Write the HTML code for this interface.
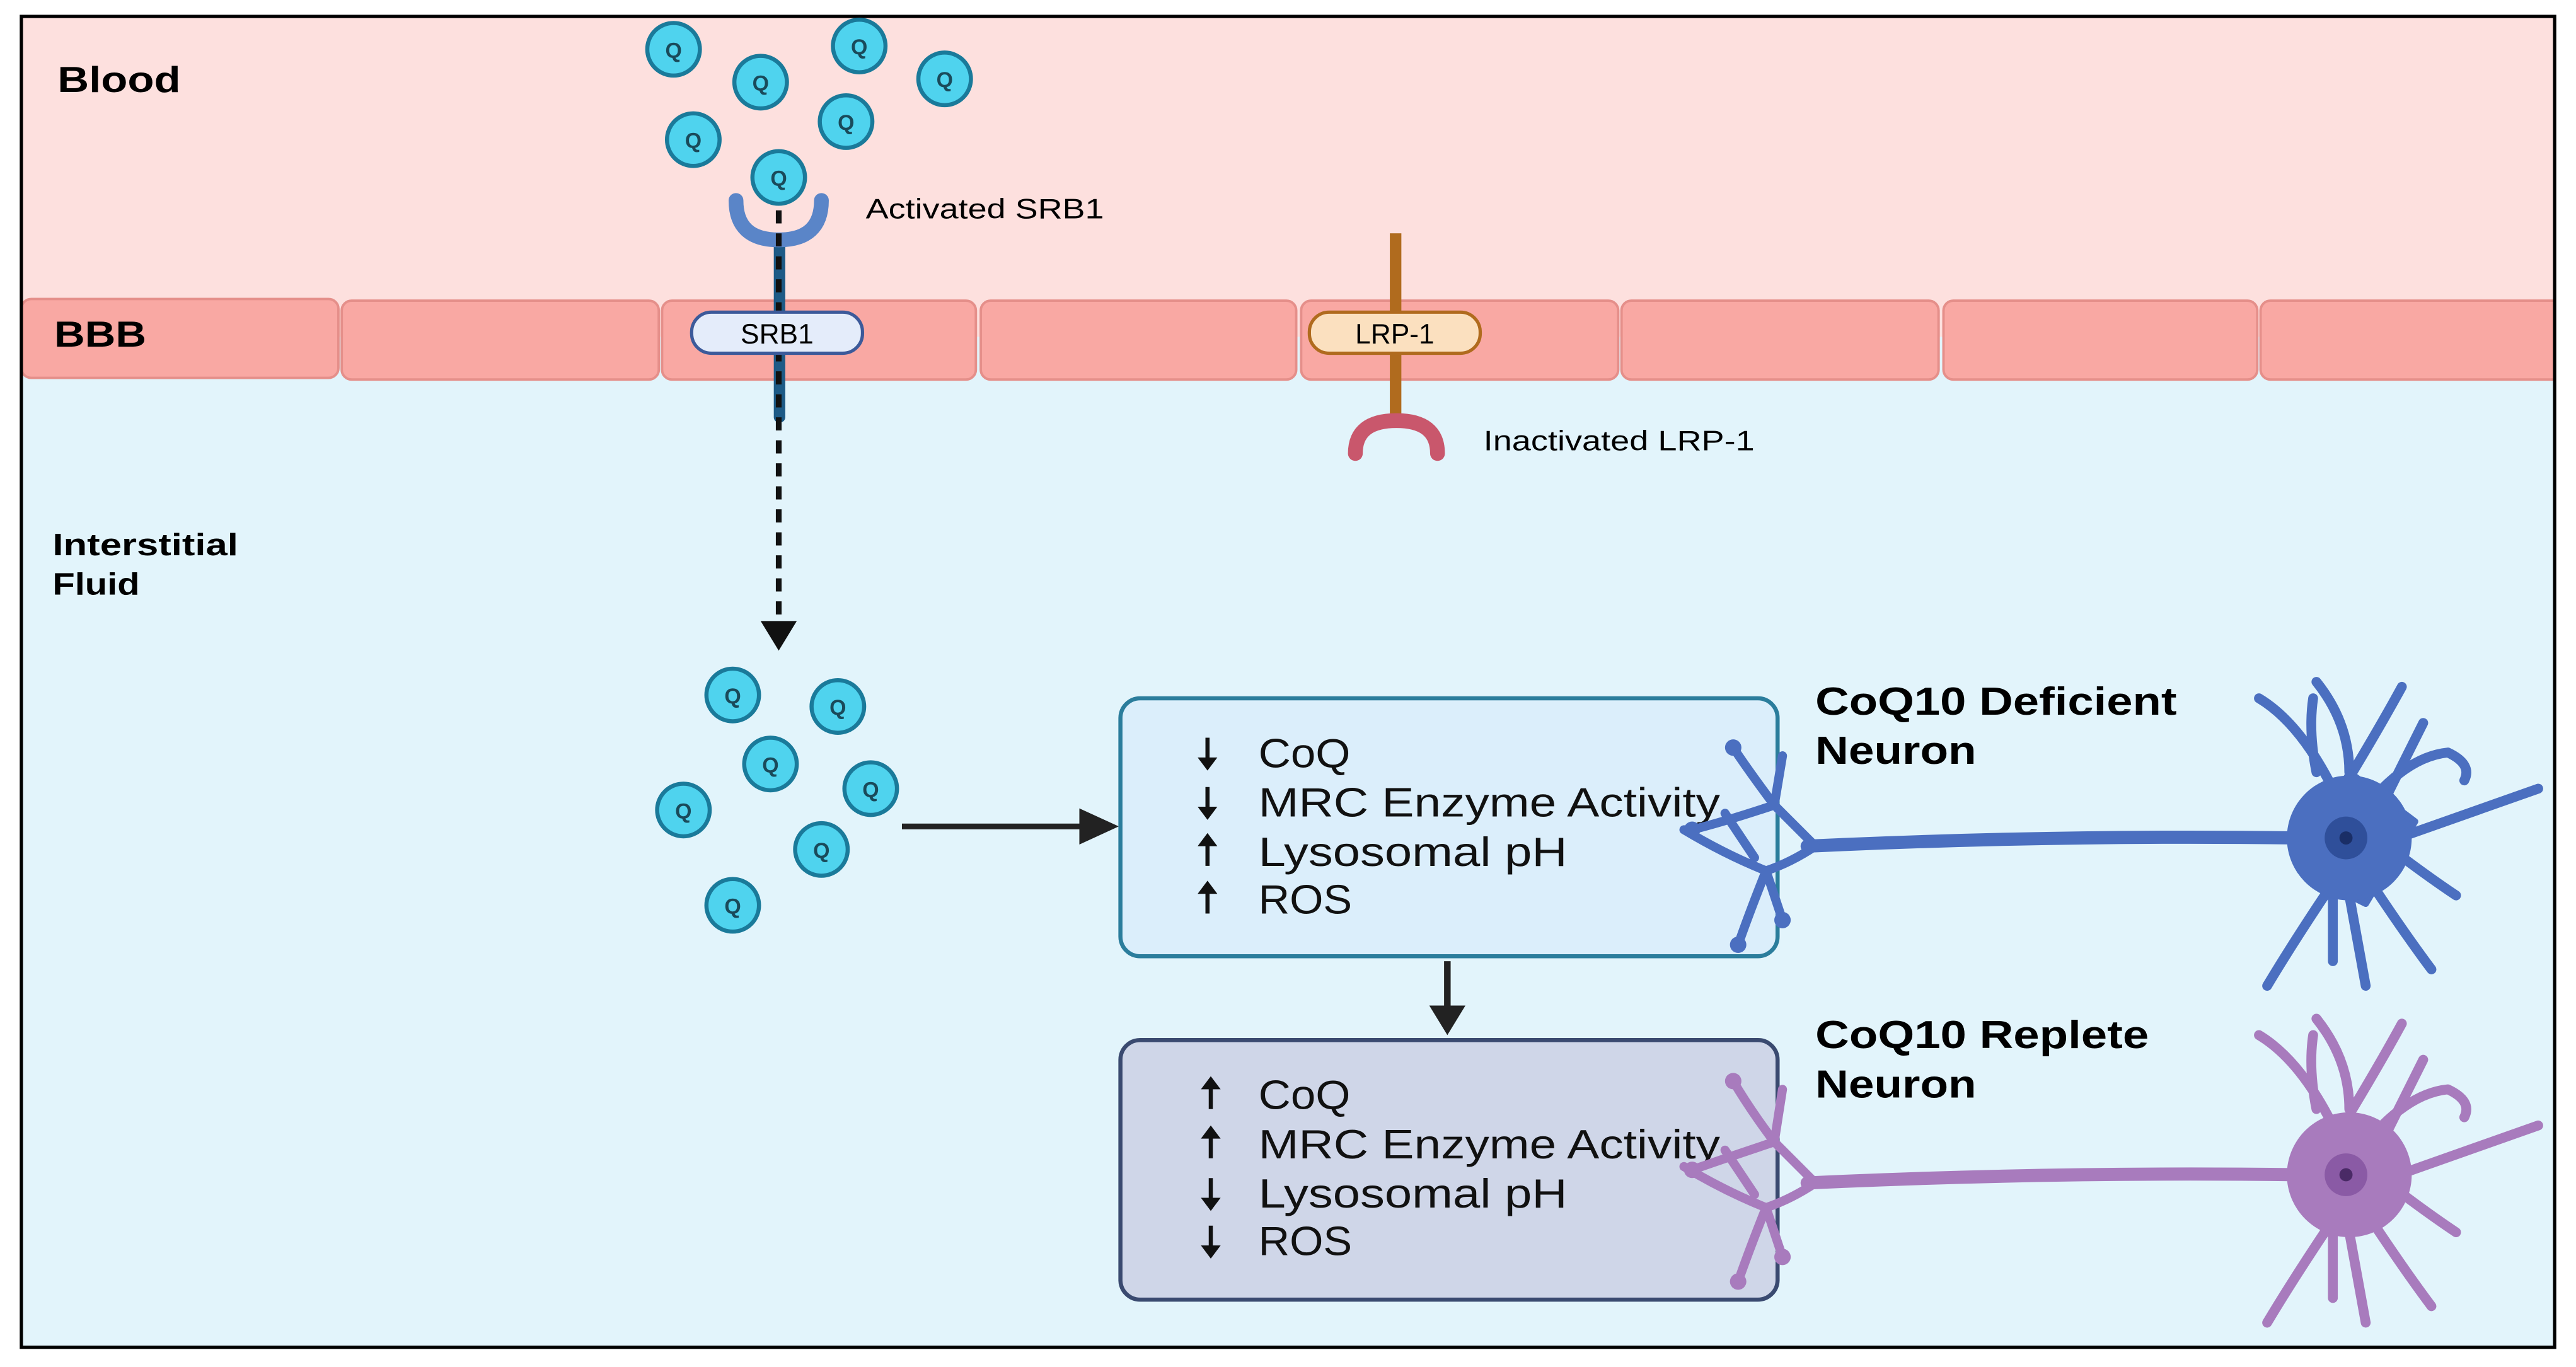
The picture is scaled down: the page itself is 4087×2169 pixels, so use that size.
<!DOCTYPE html>
<html><head><meta charset="utf-8"><style>
html,body{margin:0;padding:0;background:#fff;}
svg{display:block;}
text{font-family:"Liberation Sans",sans-serif;}
</style></head><body>
<svg width="4087" height="2169" viewBox="0 0 1568 832" preserveAspectRatio="none" xmlns="http://www.w3.org/2000/svg">
<defs>
<g id="q"><circle r="16" fill="#4fd3ee" stroke="#1a7a9a" stroke-width="2.5"/><text y="5" text-anchor="middle" font-size="13" font-weight="bold" fill="#1a4a5a">Q</text></g>
<g id="ar"><line x1="0" y1="-9" x2="0" y2="9" stroke="#111" stroke-width="2.5"/><polygon points="-6,-3 0,-11 6,-3" fill="#111"/></g>
<g id="ad"><line x1="0" y1="-9" x2="0" y2="9" stroke="#111" stroke-width="2.5"/><polygon points="-6,3 0,11 6,3" fill="#111"/></g>
<clipPath id="fr"><rect x="13" y="10" width="1542" height="810"/></clipPath>
</defs>
<rect x="0" y="0" width="1568" height="832" fill="#fff"/>
<rect x="13" y="10" width="1542" height="810" fill="#e2f4fb"/>
<rect x="13" y="10" width="1542" height="195" fill="#fde0de"/>
<g fill="#f9a8a3" stroke="#e58f8a" stroke-width="1.5" clip-path="url(#fr)">
<rect x="13" y="182" width="193" height="48" rx="6"/>
<rect x="208" y="183" width="193" height="48" rx="6"/>
<rect x="403" y="183" width="191" height="48" rx="6"/>
<rect x="597" y="183" width="192" height="48" rx="6"/>
<rect x="792" y="183" width="193" height="48" rx="6"/>
<rect x="987" y="183" width="193" height="48" rx="6"/>
<rect x="1183" y="183" width="191" height="48" rx="6"/>
<rect x="1376" y="183" width="200" height="48" rx="6"/>
</g>
<rect x="13" y="10" width="1542" height="810" fill="none" stroke="#000" stroke-width="2"/>
<text x="35" y="56" font-size="22" font-weight="bold" textLength="75" lengthAdjust="spacingAndGlyphs">Blood</text>
<text x="33" y="211" font-size="22" font-weight="bold" textLength="56" lengthAdjust="spacingAndGlyphs">BBB</text>
<text x="32" y="338" font-size="19" font-weight="bold" textLength="113" lengthAdjust="spacingAndGlyphs">Interstitial</text>
<text x="32" y="362" font-size="19" font-weight="bold" textLength="53" lengthAdjust="spacingAndGlyphs">Fluid</text>
<use href="#q" x="410" y="30"/><use href="#q" x="523" y="28"/><use href="#q" x="463" y="50"/>
<use href="#q" x="575" y="48"/><use href="#q" x="422" y="85"/><use href="#q" x="515" y="74"/>
<rect x="471" y="145" width="7" height="112" rx="3" fill="#1d5a86"/>
<path d="M448 122 Q448 146 474 146 Q500 146 500 122" fill="none" stroke="#5a85c8" stroke-width="9" stroke-linecap="round"/>
<use href="#q" x="474" y="108"/>
<line x1="474" y1="128" x2="474" y2="380" stroke="#111" stroke-width="3.5" stroke-dasharray="8,6"/>
<polygon points="463,378 485,378 474,396" fill="#111"/>
<rect x="421" y="190" width="104" height="25" rx="12" fill="#e4ecfa" stroke="#3c5a9a" stroke-width="2"/>
<text x="473" y="209" font-size="17" text-anchor="middle">SRB1</text>
<text x="527" y="133" font-size="17" textLength="145" lengthAdjust="spacingAndGlyphs">Activated SRB1</text>
<rect x="846" y="142" width="7" height="112" fill="#b06b1e"/>
<path d="M825 276 Q825 256 850 256 Q875 256 875 276" fill="none" stroke="#c9576c" stroke-width="9" stroke-linecap="round"/>
<rect x="797" y="190" width="104" height="25" rx="12" fill="#fbe0bf" stroke="#b06b1e" stroke-width="2"/>
<text x="849" y="209" font-size="17" text-anchor="middle">LRP-1</text>
<text x="903" y="274" font-size="17" textLength="165" lengthAdjust="spacingAndGlyphs">Inactivated LRP-1</text>
<use href="#q" x="446" y="423"/><use href="#q" x="510" y="430"/><use href="#q" x="469" y="465"/>
<use href="#q" x="530" y="480"/><use href="#q" x="416" y="493"/><use href="#q" x="500" y="517"/>
<use href="#q" x="446" y="551"/>
<line x1="549" y1="503" x2="660" y2="503" stroke="#222" stroke-width="3.5"/>
<polygon points="657,492 681,503 657,514" fill="#222"/>
<rect x="682" y="425" width="400" height="157" rx="12" fill="#dbeefb" stroke="#2b7d9c" stroke-width="2.5"/>
<rect x="682" y="633" width="400" height="158" rx="12" fill="#cfd6e8" stroke="#3a4a70" stroke-width="2.5"/>
<line x1="881" y1="585" x2="881" y2="615" stroke="#222" stroke-width="4"/>
<polygon points="870,612 892,612 881,630" fill="#222"/>
<g font-size="25" fill="#111">
<text x="766" y="467" textLength="56" lengthAdjust="spacingAndGlyphs">CoQ</text><text x="766" y="497" textLength="281" lengthAdjust="spacingAndGlyphs">MRC Enzyme Activity</text>
<text x="766" y="527" textLength="188" lengthAdjust="spacingAndGlyphs">Lysosomal pH</text><text x="766" y="556" textLength="57" lengthAdjust="spacingAndGlyphs">ROS</text>
<text x="766" y="675" textLength="56" lengthAdjust="spacingAndGlyphs">CoQ</text><text x="766" y="705" textLength="281" lengthAdjust="spacingAndGlyphs">MRC Enzyme Activity</text>
<text x="766" y="735" textLength="188" lengthAdjust="spacingAndGlyphs">Lysosomal pH</text><text x="766" y="764" textLength="57" lengthAdjust="spacingAndGlyphs">ROS</text>
</g>
<use href="#ad" x="735" y="458"/><use href="#ad" x="735" y="488"/><use href="#ar" x="735" y="518"/><use href="#ar" x="735" y="547"/>
<use href="#ar" x="737" y="666"/><use href="#ar" x="737" y="696"/><use href="#ad" x="737" y="726"/><use href="#ad" x="737" y="755"/>
<g font-size="24" font-weight="bold">
<text x="1105" y="435" textLength="220" lengthAdjust="spacingAndGlyphs">CoQ10 Deficient</text>
<text x="1105" y="465" textLength="98" lengthAdjust="spacingAndGlyphs">Neuron</text>
<text x="1105" y="638" textLength="203" lengthAdjust="spacingAndGlyphs">CoQ10 Replete</text>
<text x="1105" y="668" textLength="98" lengthAdjust="spacingAndGlyphs">Neuron</text>
</g>
<g fill="none" stroke="#4b6fc0" stroke-linecap="round" stroke-linejoin="round">
<path d="M1100 515 Q1250 508 1400 510" stroke-width="8"/>
<path d="M1105 515 Q1085 495 1080 490 Q1065 470 1055 455 M1080 490 Q1050 500 1030 505 M1080 490 L1085 460 M1105 515 Q1090 525 1075 530 Q1050 520 1025 505 M1075 530 Q1065 555 1058 575 M1075 530 L1085 560 M1068 522 L1050 495" stroke-width="5.5"/>
<path d="M1420 480 Q1400 440 1375 425 M1410 470 Q1405 445 1408 425 M1430 470 Q1430 440 1410 415 M1432 470 Q1450 440 1462 418 M1450 480 Q1470 460 1490 458 Q1505 465 1500 475 M1460 510 L1545 480 M1460 520 Q1480 535 1495 545 M1445 540 Q1465 570 1480 590 M1430 545 L1440 600 M1415 545 Q1395 575 1380 600 M1420 545 L1420 585 M1450 490 Q1465 460 1475 440" stroke-width="6"/>
<path d="M1430 470 L1470 500 L1440 550 L1400 530 Z" fill="#4b6fc0" stroke-width="4"/>
<circle cx="1430" cy="510" r="38" fill="#4b6fc0" stroke="none"/>
</g>
<circle cx="1428" cy="510" r="13" fill="#2f4f9a"/><circle cx="1428" cy="510" r="4" fill="#1a2e66"/>
<circle cx="1055" cy="455" r="5" fill="#4b6fc0"/><circle cx="1030" cy="505" r="5" fill="#4b6fc0"/><circle cx="1058" cy="575" r="5" fill="#4b6fc0"/><circle cx="1085" cy="560" r="5" fill="#4b6fc0"/>
<g fill="none" stroke="#a87bbd" stroke-linecap="round" stroke-linejoin="round">
<path d="M1100 720 Q1250 713 1400 715" stroke-width="8"/>
<path d="M1105 720 Q1085 700 1080 695 Q1065 675 1055 658 M1080 695 Q1050 705 1030 712 M1080 695 L1085 663 M1105 720 Q1090 730 1075 735 Q1050 725 1025 710 M1075 735 Q1065 760 1058 780 M1075 735 L1085 765 M1068 727 L1050 700" stroke-width="5.5"/>
<path d="M1420 685 Q1400 645 1375 630 M1410 675 Q1405 650 1408 630 M1430 675 Q1430 645 1410 620 M1432 675 Q1450 645 1462 623 M1450 685 Q1470 665 1490 663 Q1505 670 1500 680 M1460 715 L1545 685 M1460 725 Q1480 740 1495 750 M1445 745 Q1465 775 1480 795 M1430 750 L1440 805 M1415 750 Q1395 780 1380 805 M1420 750 L1420 790 M1450 695 Q1465 665 1475 645" stroke-width="6"/>
<circle cx="1430" cy="715" r="38" fill="#a87bbd" stroke="none"/>
</g>
<circle cx="1428" cy="715" r="13" fill="#8a5aa5"/><circle cx="1428" cy="715" r="4" fill="#4a2a66"/>
<circle cx="1055" cy="658" r="5" fill="#a87bbd"/><circle cx="1030" cy="712" r="5" fill="#a87bbd"/><circle cx="1058" cy="780" r="5" fill="#a87bbd"/><circle cx="1085" cy="765" r="5" fill="#a87bbd"/>
</svg>
</body></html>
